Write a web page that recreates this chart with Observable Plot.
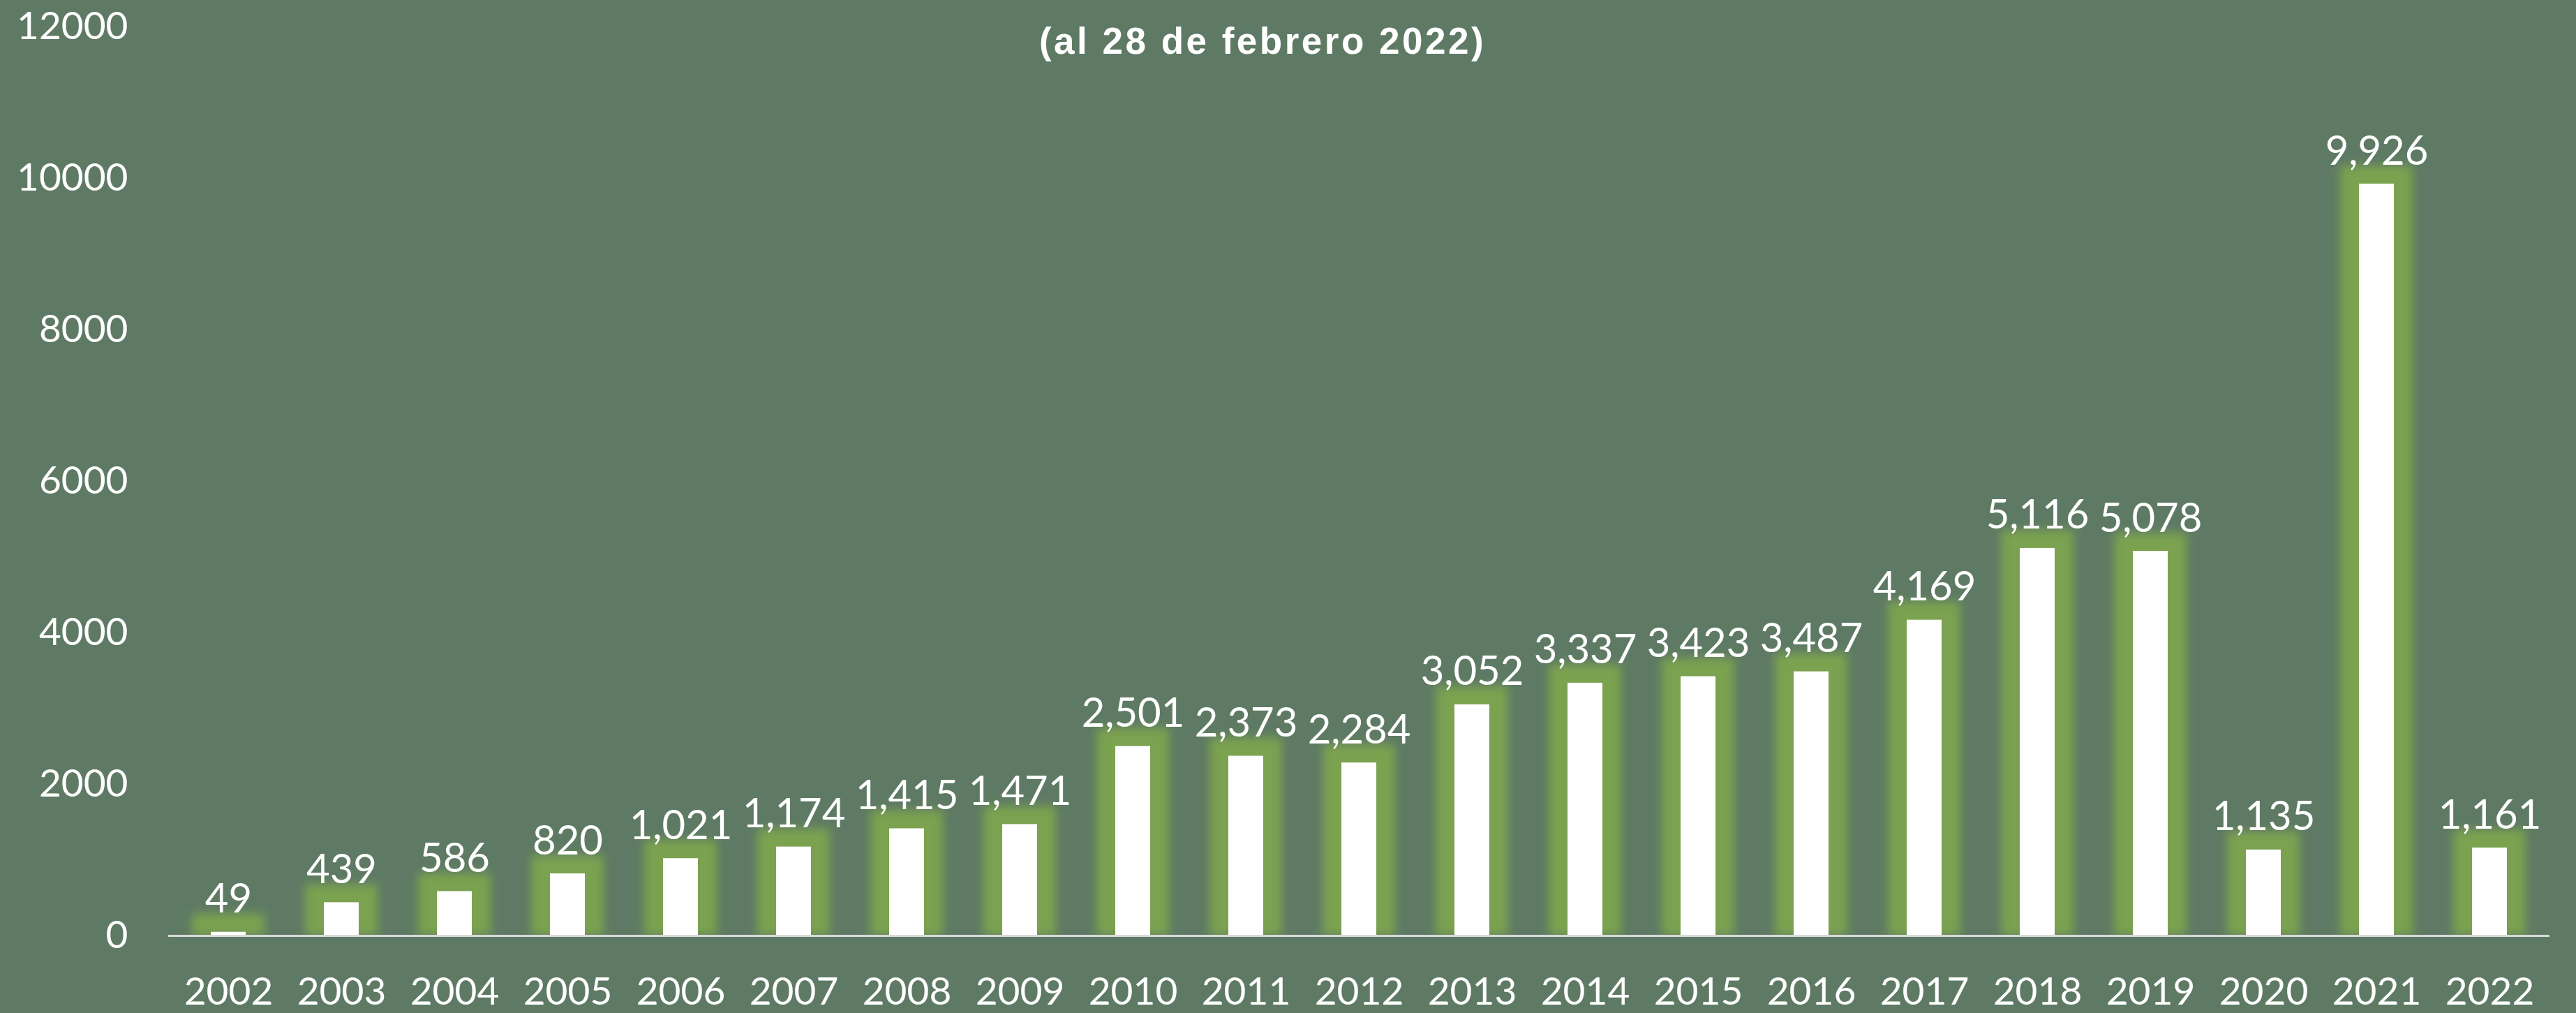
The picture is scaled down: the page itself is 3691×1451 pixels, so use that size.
<!DOCTYPE html>
<html>
<head>
<meta charset="utf-8">
<script src="https://cdn.jsdelivr.net/npm/d3@7"></script>
<script src="https://cdn.jsdelivr.net/npm/@observablehq/plot@0.6"></script>
<style>
  html, body { margin: 0; padding: 0; background: #5E7A64; }
  #wrap { position: relative; width: 3691px; height: 1451px; overflow: hidden; }
  #title {
    position: absolute; top: 28px; left: 1809px; transform: translateX(-50%);
    font-family: "Liberation Sans", Arial, sans-serif; font-weight: 700;
    font-size: 53px; letter-spacing: 3.5px; color: #ffffff; white-space: nowrap;
  }
  svg { display: block; }
</style>
</head>
<body>
<div id="wrap">
  <div id="title">(al 28 de febrero 2022)</div>
</div>
<script>
const years = ["2002","2003","2004","2005","2006","2007","2008","2009","2010","2011","2012","2013","2014","2015","2016","2017","2018","2019","2020","2021","2022"];
const counts = [49, 439, 586, 820, 1021, 1174, 1415, 1471, 2501, 2373, 2284, 3052, 3337, 3423, 3487, 4169, 5116, 5078, 1135, 9926, 1161];
const yTicks = [0, 2000, 4000, 6000, 8000, 10000, 12000];

const data = years.map((year, i) => ({year, value: counts[i]}));
const fmt = d3.format(",");

const chart = Plot.plot({
  width: 3691,
  height: 1451,
  marginLeft: 241,
  marginRight: 38,
  marginTop: 38,
  marginBottom: 111,
  style: {
    background: "#5E7A64",
    color: "#ffffff",
    fontFamily: "Lato, 'Open Sans', sans-serif",
    fontSize: "55px"
  },
  x: {domain: years, paddingInner: 0.69, paddingOuter: 0.345, tickSize: 0, tickPadding: 59, label: null},
  y: {domain: [0, 12000], ticks: yTicks, tickFormat: d => String(d), tickSize: 0, tickPadding: 58, label: null},
  marks: [
    Plot.barY(data, {x: "year", y: "value", fill: "#7BA24F", insetLeft: -27, insetRight: -27, insetTop: -26, clip: true}),
    Plot.barY(data, {x: "year", y: "value", fill: "#ffffff"}),
    Plot.ruleY([0], {stroke: "#D9D9D9", strokeWidth: 3}),
    Plot.text(data, {x: "year", y: "value", text: d => fmt(d.value), fill: "#ffffff", fontSize: 58, lineAnchor: "bottom", dy: -28})
  ]
});

const glow = chart.querySelectorAll('g[aria-label="bar"]')[0];
if (glow) glow.style.filter = "blur(7px)";
document.getElementById("wrap").appendChild(chart);
</script>
</body>
</html>
